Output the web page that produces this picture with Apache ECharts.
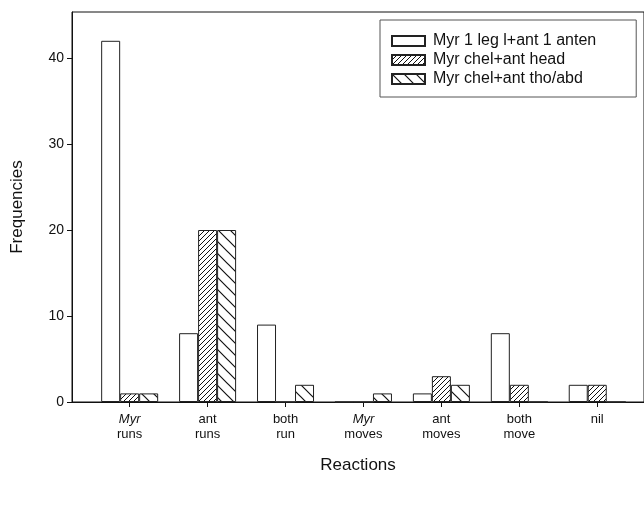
<!DOCTYPE html>
<html>
<head>
<meta charset="utf-8">
<script src="https://cdn.jsdelivr.net/npm/echarts@6/dist/echarts.min.js"></script>
<style>
  html, body { margin: 0; padding: 0; background: #fff; }
  #chart { width: 644px; height: 508px; }
</style>
</head>
<body>
<div id="chart"></div>
<script>
// Reaction categories (first word in italics where it is a genus name)
const categories = [
  ['Myr', 'runs', true],
  ['ant', 'runs', false],
  ['both', 'run', false],
  ['Myr', 'moves', true],
  ['ant', 'moves', false],
  ['both', 'move', false],
  ['nil', '', false]
];
const seriesNames = [
  'Myr 1 leg l+ant 1 anten',
  'Myr chel+ant head',
  'Myr chel+ant tho/abd'
];
const legOnAntenna = [42, 8, 9, 0, 1, 8, 2];
const chelOnHead   = [1, 20, 0, 0, 3, 2, 2];
const chelOnThorax = [1, 20, 2, 1, 2, 0, 0];
const yTicks = [0, 10, 20, 30, 40];

// Hatch fills drawn on small tiles
function hatch(size, dir, width) {
  const c = document.createElement('canvas');
  c.width = size; c.height = size;
  const g = c.getContext('2d');
  g.fillStyle = '#fff';
  g.fillRect(0, 0, size, size);
  g.strokeStyle = '#111';
  g.lineWidth = width;
  g.beginPath();
  if (dir === '/') {
    g.moveTo(0, size); g.lineTo(size, 0);
    g.moveTo(-1, 1); g.lineTo(1, -1);
    g.moveTo(size - 1, size + 1); g.lineTo(size + 1, size - 1);
  } else {
    g.moveTo(0, 0); g.lineTo(size, size);
    g.moveTo(-1, size - 1); g.lineTo(1, size + 1);
    g.moveTo(size - 1, -1); g.lineTo(size + 1, 1);
  }
  g.stroke();
  return { image: c, repeat: 'repeat' };
}

const fills = ['#ffffff', hatch(5, '/', 1), hatch(12, '\\', 1.2)];
const values = [legOnAntenna, chelOnHead, chelOnThorax];

const chart = echarts.init(document.getElementById('chart'), null, { renderer: 'canvas' });
const font = 'Liberation Sans, Arial, sans-serif';
const ink = '#111';

chart.setOption({
  animation: false,
  backgroundColor: '#fff',
  textStyle: { fontFamily: font, color: ink },
  grid: {
    left: 72, right: -1, top: 12, bottom: 106,
    show: true, borderColor: ink, borderWidth: 1
  },
  legend: {
    orient: 'vertical',
    left: 380, top: 20,
    padding: [13, 40, 10, 11],
    itemGap: 3,
    itemWidth: 33, itemHeight: 10,
    borderColor: '#555', borderWidth: 1,
    icon: 'rect',
    textStyle: { fontSize: 16, lineHeight: 16, fontFamily: font, color: ink, padding: [0, 0, 0, 3] },
    data: seriesNames
  },
  xAxis: {
    type: 'value',
    min: -0.74, max: 6.6,
    name: 'Reactions',
    nameLocation: 'middle',
    nameGap: 55,
    nameTextStyle: { fontSize: 17, fontFamily: font, color: ink },
    axisLine: { onZero: false, lineStyle: { color: ink } },
    axisTick: { customValues: categories.map((_, i) => i), length: 5, lineStyle: { color: ink } },
    axisLabel: {
      customValues: categories.map((_, i) => i),
      margin: 10,
      lineHeight: 15,
      fontSize: 13,
      color: ink,
      formatter: v => {
        const c = categories[v];
        if (!c) return '';
        const first = c[2] ? '{i|' + c[0] + '}' : c[0];
        return c[1] ? first + '\n' + c[1] : first;
      },
      rich: { i: { fontStyle: 'italic', fontSize: 13, lineHeight: 15, fontFamily: font, color: ink } }
    },
    splitLine: { show: false }
  },
  yAxis: {
    type: 'value',
    min: 0, max: 45.35,
    name: 'Frequencies',
    nameLocation: 'middle',
    nameGap: 46,
    nameTextStyle: { fontSize: 17, fontFamily: font, color: ink },
    axisLine: { show: true, onZero: false, lineStyle: { color: ink } },
    axisTick: { show: true, customValues: yTicks, length: 5, lineStyle: { color: ink } },
    axisLabel: { customValues: yTicks, fontSize: 14, color: ink, margin: 8 },
    splitLine: { show: false }
  },
  series: values.map((vals, s) => ({
    name: seriesNames[s],
    type: 'bar',
    barWidth: 19,
    barGap: '0%',
    data: vals.map((v, i) => [i, v]),
    itemStyle: { color: fills[s], borderColor: '#222', borderWidth: 1 }
  }))
});
</script>
</body>
</html>
